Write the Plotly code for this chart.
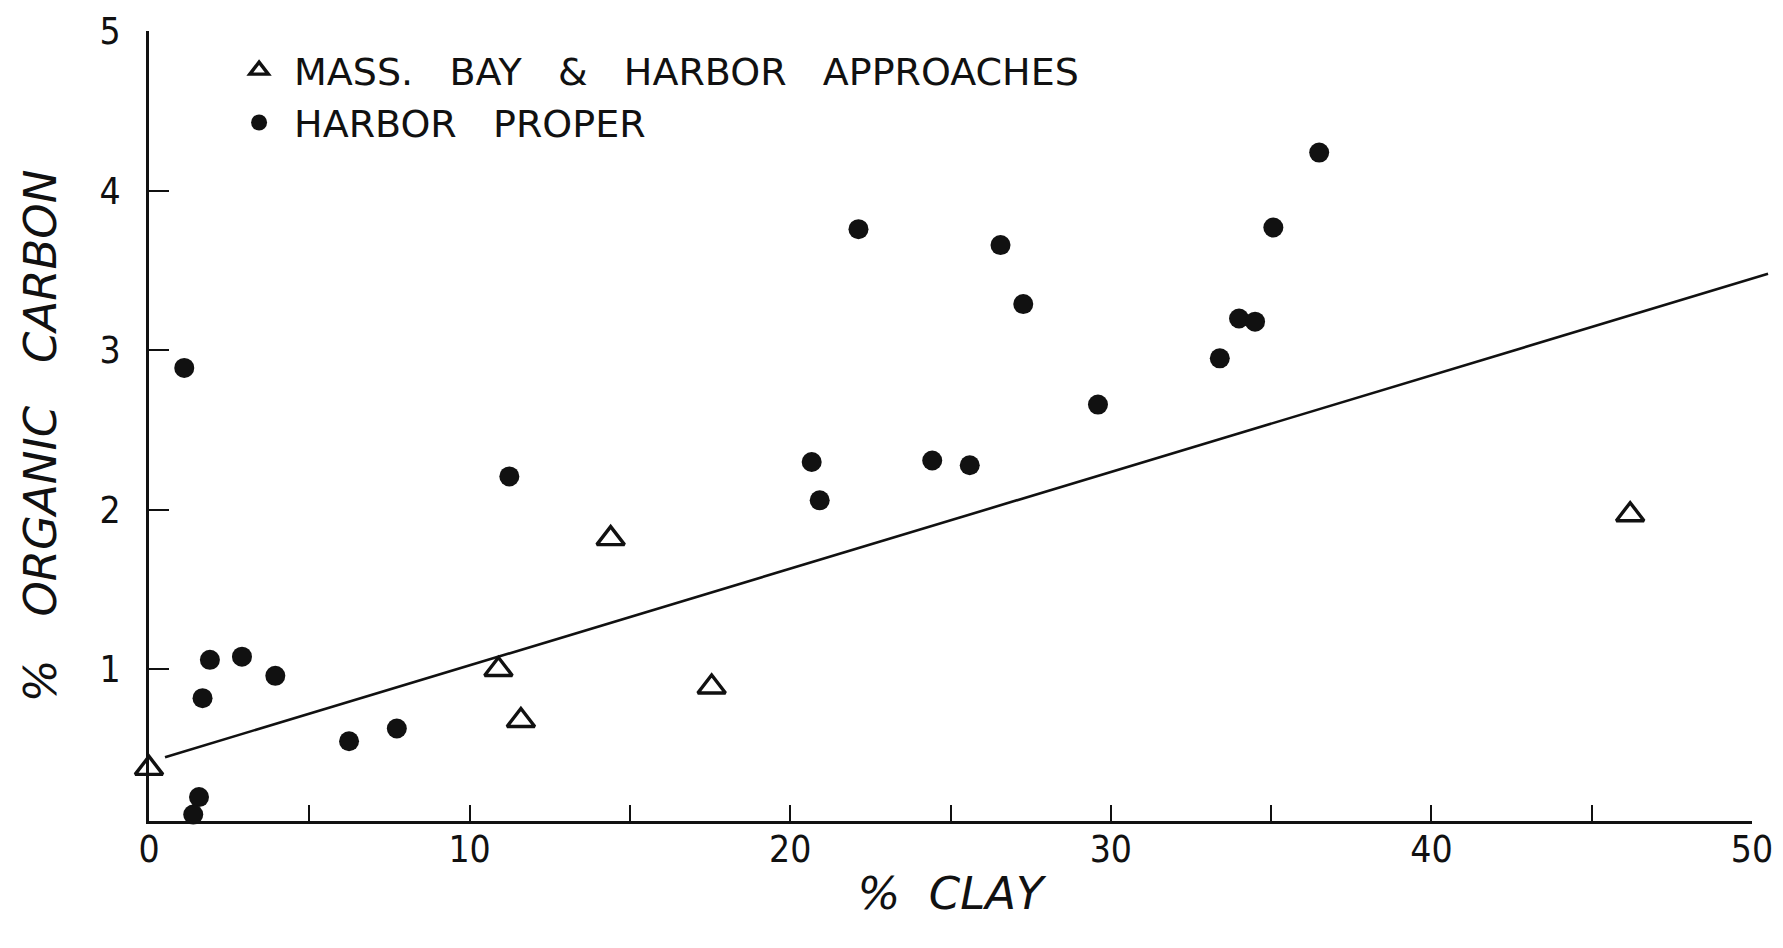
import plotly.graph_objects as go

# % clay vs % organic carbon
bay_clay = [0.0, 10.9, 11.6, 14.4, 17.55, 46.2]
bay_carbon = [0.38, 1.0, 0.68, 1.82, 0.89, 1.97]

harbor_clay = [1.1, 1.67, 1.9, 2.9, 3.94, 1.56, 1.38, 6.24, 7.73, 11.24,
               20.67, 20.92, 22.13, 24.43, 25.6, 26.56, 27.27, 29.6,
               33.4, 34.0, 34.5, 35.07, 36.5]
harbor_carbon = [2.89, 0.82, 1.06, 1.08, 0.96, 0.20, 0.09, 0.55, 0.63, 2.21,
                 2.30, 2.06, 3.76, 2.31, 2.28, 3.66, 3.29, 2.66,
                 2.95, 3.2, 3.18, 3.77, 4.24]

# fitted line end points (the drawn line runs a little past 50)
fit_clay = [0.5, 50.5]
fit_carbon = [0.45, 3.48]

x_tickvals = [0, 5, 10, 15, 20, 25, 30, 35, 40, 45, 50]
x_ticktext = ["0", "", "10", "", "20", "", "30", "", "40", "", "50"]
y_tickvals = [1, 2, 3, 4, 5]

INK = "#111111"
TICK_FONT = dict(family="DejaVu Sans Condensed, DejaVu Sans, sans-serif", size=37, color=INK)
TITLE_FONT = dict(family="DejaVu Sans, sans-serif", size=45, color=INK, style="italic")

# plot box is 1603 px wide; the page body adds an 8 px offset
W, H = 1783, 948
L, R, T, B = 141, 10, 23, 135
box_w = 1603
main_dom = box_w / (W - L - R)
X_MAX, Y_MIN, Y_MAX = 50, 0.05, 5.002

fig = go.Figure()

# regression line on a hidden second axis pair that reaches past x = 50
fig.add_trace(go.Scatter(
    x=fit_clay, y=fit_carbon, mode="lines",
    line=dict(color=INK, width=2.6),
    xaxis="x2", yaxis="y2",
    showlegend=False, hoverinfo="skip",
))

fig.add_trace(go.Scatter(
    x=bay_clay, y=bay_carbon, mode="markers",
    name="MASS.   BAY   &   HARBOR   APPROACHES",
    marker=dict(symbol="triangle-up-open", size=24, color=INK, line=dict(width=3.4, color=INK)),
    cliponaxis=False,
))

fig.add_trace(go.Scatter(
    x=harbor_clay, y=harbor_carbon, mode="markers",
    name="HARBOR   PROPER",
    marker=dict(symbol="circle", size=20, color=INK, line=dict(width=0)),
    cliponaxis=False,
))

fig.update_layout(
    width=W, height=H,
    paper_bgcolor="white", plot_bgcolor="rgba(0,0,0,0)",
    margin=dict(l=L, r=R, t=T, b=B),
    font=dict(family="DejaVu Sans, sans-serif", color=INK),
    legend=dict(
        x=0.046, y=0.99, xanchor="left", yanchor="top",
        bgcolor="rgba(0,0,0,0)",
        font=dict(family="DejaVu Sans, sans-serif", size=38, color=INK),
        itemwidth=60,
    ),
    xaxis=dict(
        domain=[0, main_dom], range=[0, X_MAX],
        tickvals=x_tickvals, ticktext=x_ticktext,
        ticks="inside", ticklen=16, tickwidth=2, tickcolor=INK,
        ticklabelstandoff=-6, ticklabeloverflow="allow",
        showline=True, linecolor=INK, linewidth=3,
        showgrid=False, zeroline=False, automargin=False,
        tickfont=TICK_FONT,
        title=dict(text="%  CLAY", font=TITLE_FONT, standoff=8),
    ),
    yaxis=dict(
        range=[Y_MIN, Y_MAX], tickvals=y_tickvals,
        ticks="inside", ticklen=20, tickwidth=2, tickcolor=INK,
        ticklabelstandoff=18, ticklabeloverflow="allow",
        showline=True, linecolor=INK, linewidth=3,
        showgrid=False, zeroline=False, automargin=False,
        tickfont=TICK_FONT,
    ),
    xaxis2=dict(
        domain=[0, 1], range=[0, X_MAX / main_dom], anchor="y2",
        visible=False, automargin=False,
    ),
    yaxis2=dict(
        domain=[0, 1], range=[Y_MIN, Y_MAX], anchor="x2",
        visible=False, automargin=False,
    ),
    annotations=[dict(
        text="%   ORGANIC   CARBON", textangle=-90,
        xref="paper", yref="paper", x=0, y=0.487,
        xanchor="center", yanchor="middle", xshift=-109,
        showarrow=False, font=TITLE_FONT,
    )],
)

fig.write_html("out.html")
